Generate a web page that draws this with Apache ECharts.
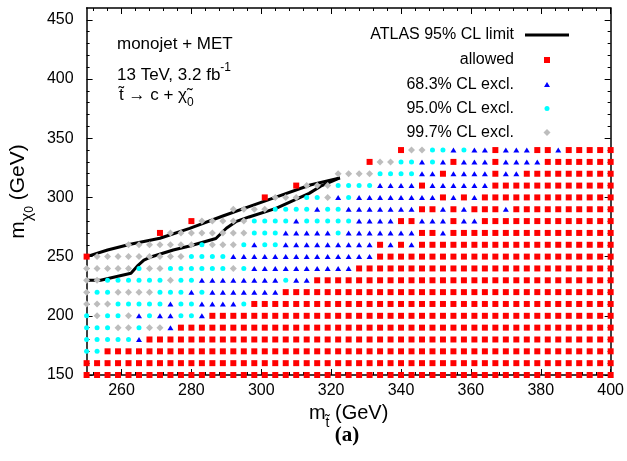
<!DOCTYPE html>
<html>
<head>
<meta charset="utf-8">
<script src="https://cdn.jsdelivr.net/npm/echarts/dist/echarts.min.js"></script>
<style>
html,body{margin:0;padding:0;background:#fff;}
#chart{width:627px;height:461px;}
</style>
</head>
<body>
<div id="chart"></div>
<script>
// ---- data ----
// stop mass grid (x) and neutralino mass grid (y)
const mStop = [250,253,256,259,262,265,268,271,274,277,280,283,286,289,292,295,298,301,304,307,310,313,316,319,322,325,328,331,334,337,340,343,346,349,352,355,358,361,364,367,370,373,376,379,382,385,388,391,394,397,400];
const mChi = [150,160,170,180,190,200,210,220,230,240,250,260,270,280,290,300,310,320,330,340];
// classification of each grid row, run-length coded along mStop
// R = allowed, B = 68.3% excl., C = 95.0% excl., G = 99.7% excl., - = no point
const rowRuns = [
  "R51",
  "R51",
  "C2 R49",
  "C5 B1 R45",
  "C3 G2 C1 G2 B1 R42",
  "C1 G1 C2 G1 B1 C1 B2 C2 B1 R39",
  "G3 C5 B1 C2 B4 C1 R35",
  "G1 C2 G4 C3 B1 C1 B7 R32",
  "G2 C6 G1 C2 B8 C1 B2 R29",
  "G5 C1 G2 C6 G1 C1 B10 R25",
  "R1 G9 C4 B14 R23",
  "-4 G7 C1 G3 C1 B1 C2 B9 R1 B1 R1 B1 R19",
  "-7 R1 G8 C3 B5 C1 B7 R2 B1 R16",
  "-10 R1 G5 C4 B1 C5 B4 R2 B3 R1 B2 R13",
  "-14 G4 C4 B1 C2 B7 R2 B1 R1 B1 R3 B1 R10",
  "-17 R1 G3 C2 G1 B1 C1 B8 R1 B1 R1 B1 R13",
  "-20 R1 G3 C4 B4 R1 B6 R12",
  "-24 G4 C4 B2 R1 B4 R1 B2 R9",
  "-27 R1 G2 C2 B1 C1 B1 R1 B3 R1 B4 R7",
  "-30 R1 G2 C2 B1 C1 B2 R1 B3 R2 B1 R5"
];
// ATLAS 95% CL limit contour (two branches)
const atlasUpperX = [250, 256, 262.5, 271, 279.5, 289, 296.5, 304, 314, 322.5];
const atlasUpperY = [250, 255.6, 260.4, 265.5, 273.9, 284.3, 292.2, 300, 310.5, 316.5];
const atlasLowerX = [250, 254, 262.7, 264.8, 266.4, 268.6, 274.8, 279.5, 287, 290, 292.7, 296.5, 304.2, 313.7, 317, 322.5];
const atlasLowerY = [230, 230, 236, 242.9, 247.1, 249.9, 255.6, 259, 265.3, 274, 279.5, 283.5, 290.8, 303.4, 309.5, 316.5];
// ticks
const xMajorTicks = [260, 280, 300, 320, 340, 360, 380, 400];
const xMinorTicks = [252, 256, 264, 268, 272, 276, 284, 288, 292, 296, 304, 308, 312, 316, 324, 328, 332, 336, 344, 348, 352, 356, 364, 368, 372, 376, 384, 388, 392, 396];
const yMajorTicks = [150, 200, 250, 300, 350, 400, 450];
const yMinorTicks = [160, 170, 180, 190, 210, 220, 230, 240, 260, 270, 280, 290, 310, 320, 330, 340, 360, 370, 380, 390, 410, 420, 430, 440];
const legendNames = ["ATLAS 95% CL limit", "allowed", "68.3% CL excl.", "95.0% CL excl.", "99.7% CL excl."];

// ---- build series data ----
const classIndex = {R: 0, B: 1, C: 2, G: 3};
const groups = [[], [], [], []];
mChi.forEach((y, i) => {
  let k = 0;
  rowRuns[i].split(' ').forEach(tok => {
    const c = tok[0];
    const n = parseInt(tok.slice(1), 10);
    for (let j = 0; j < n; j++, k++) {
      if (c !== '-') groups[classIndex[c]].push([mStop[k], y]);
    }
  });
});
const zip = (a, b) => a.map((v, i) => [v, b[i]]);

const FONT = 'Liberation Sans, Arial, Helvetica, sans-serif';
const BLACK = '#000';
const RED = '#ff0000', BLUE = '#0000ff', CYAN = '#00ffff', GRAY = '#bdbdbd';

function xAx(pos, ticks, len, line, labels, extra) {
  return Object.assign({
    type: 'value', min: 250, max: 400, position: pos,
    axisLine: {show: line, onZero: false, lineStyle: {color: BLACK, width: 1.5}},
    axisTick: {show: true, inside: true, length: len, customValues: ticks, lineStyle: {color: BLACK, width: 1}},
    axisLabel: labels ? {show: true, customValues: ticks, color: BLACK, fontSize: 16, fontFamily: FONT, margin: 8} : {show: false},
    splitLine: {show: false}
  }, extra || {});
}
function yAx(pos, ticks, len, line, labels, extra) {
  return Object.assign({
    type: 'value', min: 150, max: 460, position: pos,
    axisLine: {show: line, onZero: false, lineStyle: {color: BLACK, width: 1.5}},
    axisTick: {show: true, inside: true, length: len, customValues: ticks, lineStyle: {color: BLACK, width: 1}},
    axisLabel: labels ? {show: true, customValues: ticks, color: BLACK, fontSize: 16, fontFamily: FONT, margin: 13} : {show: false},
    splitLine: {show: false}
  }, extra || {});
}

const chart = echarts.init(document.getElementById('chart'), null, {renderer: 'canvas'});
const option = {
  animation: false,
  backgroundColor: '#fff',
  grid: {left: 82, right: 16, top: 8, bottom: 86, containLabel: false},
  xAxis: [
    xAx('bottom', xMajorTicks, 6, true, true, {
      name: '{m|m}{s|t\u0303}{m| (GeV)}',
      nameLocation: 'middle', nameGap: 24,
      nameTextStyle: {color: BLACK, fontFamily: FONT, fontSize: 20,
        rich: {m: {fontSize: 20, fontFamily: FONT, color: BLACK, lineHeight: 26, verticalAlign: 'top'},
               s: {fontSize: 14, fontFamily: FONT, color: BLACK, lineHeight: 16, verticalAlign: 'bottom'}}}
    }),
    xAx('bottom', xMinorTicks, 3, false, false),
    xAx('top', xMajorTicks, 6, true, false),
    xAx('top', xMinorTicks, 3, false, false)
  ],
  yAxis: [
    yAx('left', yMajorTicks, 6, true, true, {
      name: '{m|m}{s|\u03c7}{ss|0}{m| (GeV)}',
      nameLocation: 'middle', nameGap: 49, nameRotate: 90,
      nameTextStyle: {color: BLACK, fontFamily: FONT, fontSize: 20,
        rich: {m: {fontSize: 21, fontFamily: FONT, color: BLACK, lineHeight: 28, verticalAlign: 'top'},
               s: {fontSize: 16, fontFamily: FONT, color: BLACK, lineHeight: 18, verticalAlign: 'bottom'},
               ss: {fontSize: 12, fontFamily: FONT, color: BLACK, lineHeight: 12, verticalAlign: 'bottom'}}}
    }),
    yAx('left', yMinorTicks, 3, false, false),
    yAx('right', yMajorTicks, 6, true, false),
    yAx('right', yMinorTicks, 3, false, false)
  ],
  series: [
    {name: legendNames[0], type: 'line', data: zip(atlasUpperX, atlasUpperY), showSymbol: false, symbol: 'none',
     lineStyle: {color: BLACK, width: 3}, z: 1, clip: false},
    {name: legendNames[0], type: 'line', data: zip(atlasLowerX, atlasLowerY), showSymbol: false, symbol: 'none',
     lineStyle: {color: BLACK, width: 3}, z: 1, clip: false},
    {name: legendNames[1], type: 'scatter', data: groups[0], symbol: 'rect', symbolSize: 6,
     itemStyle: {color: RED, opacity: 1}, z: 3, clip: false},
    {name: legendNames[2], type: 'scatter', data: groups[1], symbol: 'triangle', symbolSize: [6, 5],
     itemStyle: {color: BLUE, opacity: 1}, z: 3, clip: false},
    {name: legendNames[3], type: 'scatter', data: groups[2], symbol: 'circle', symbolSize: 5,
     itemStyle: {color: CYAN, opacity: 1}, z: 3, clip: false},
    {name: legendNames[4], type: 'scatter', data: groups[3], symbol: 'diamond', symbolSize: [7, 7],
     itemStyle: {color: GRAY, opacity: 1}, z: 3, clip: false}
  ],
  graphic: [
    // legend (text left of sample, right aligned)
    {type: 'text', x: 514, y: 35, style: {text: legendNames[0], font: '16px ' + FONT, fill: BLACK, align: 'right', verticalAlign: 'middle'}},
    {type: 'line', shape: {x1: 525, y1: 35, x2: 569, y2: 35}, style: {stroke: BLACK, lineWidth: 3}},
    {type: 'text', x: 514, y: 60, style: {text: legendNames[1], font: '16px ' + FONT, fill: BLACK, align: 'right', verticalAlign: 'middle'}},
    {type: 'rect', shape: {x: 544, y: 57, width: 6, height: 6}, style: {fill: RED}},
    {type: 'text', x: 514, y: 84.5, style: {text: legendNames[2], font: '16px ' + FONT, fill: BLACK, align: 'right', verticalAlign: 'middle'}},
    {type: 'polygon', shape: {points: [[547, 82], [550, 87], [544, 87]]}, style: {fill: BLUE}},
    {type: 'text', x: 514, y: 108.5, style: {text: legendNames[3], font: '16px ' + FONT, fill: BLACK, align: 'right', verticalAlign: 'middle'}},
    {type: 'circle', shape: {cx: 547, cy: 108.5, r: 2.5}, style: {fill: CYAN}},
    {type: 'text', x: 514, y: 132.5, style: {text: legendNames[4], font: '16px ' + FONT, fill: BLACK, align: 'right', verticalAlign: 'middle'}},
    {type: 'polygon', shape: {points: [[547, 129], [550.5, 132.5], [547, 136], [543.5, 132.5]]}, style: {fill: GRAY}},
    // annotation
    {type: 'text', x: 117, y: 44, style: {text: 'monojet + MET', font: '17px ' + FONT, fill: BLACK, verticalAlign: 'middle'}},
    {type: 'text', x: 117, y: 62, style: {
      text: '{a|13 TeV, 3.2 fb}{b|-1}', fill: BLACK,
      rich: {a: {fontSize: 17, fontFamily: FONT, lineHeight: 22, verticalAlign: 'bottom'},
             b: {fontSize: 12, fontFamily: FONT, lineHeight: 12, verticalAlign: 'top'}}}},
    {type: 'text', x: 119, y: 87, style: {
      text: '{a|t\u0303 \u2192 c + \u03c7\u0303}{b|0}', fill: BLACK,
      rich: {a: {fontSize: 17, fontFamily: FONT, lineHeight: 22, verticalAlign: 'top'},
             b: {fontSize: 12, fontFamily: FONT, lineHeight: 12, verticalAlign: 'bottom'}}}},
    // panel label
    {type: 'text', x: 347, y: 436, style: {text: '(a)', font: 'bold 21px Liberation Serif, Times New Roman, serif', fill: BLACK, align: 'center', verticalAlign: 'middle'}}
  ]
};
chart.setOption(option);
</script>
</body>
</html>
